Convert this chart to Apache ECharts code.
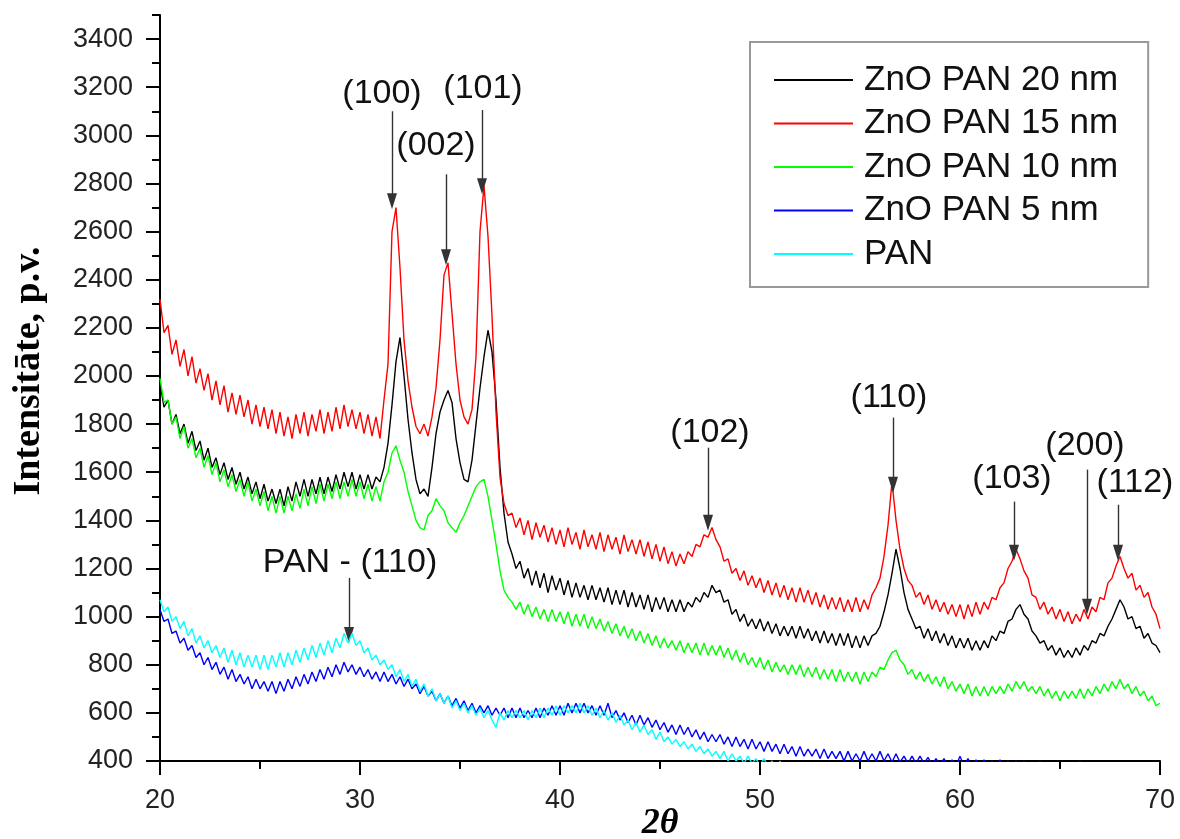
<!DOCTYPE html>
<html><head><meta charset="utf-8">
<script src="https://cdn.jsdelivr.net/npm/echarts@6/dist/echarts.min.js"></script>
<style>html,body{margin:0;padding:0;background:#fff}#chart{width:1180px;height:839px}</style>
</head><body><div id="chart"></div>
<script>
const seriesNames = ['ZnO PAN 20 nm', 'ZnO PAN 15 nm', 'ZnO PAN 10 nm', 'ZnO PAN 5 nm', 'PAN'];

const twoTheta = [
20,20.2,20.4,20.6,20.8,21,21.2,21.4,21.6,21.8,
22,22.2,22.4,22.6,22.8,23,23.2,23.4,23.6,23.8,
24,24.2,24.4,24.6,24.8,25,25.2,25.4,25.6,25.8,
26,26.2,26.4,26.6,26.8,27,27.2,27.4,27.6,27.8,
28,28.2,28.4,28.6,28.8,29,29.2,29.4,29.6,29.8,
30,30.2,30.4,30.6,30.8,31,31.2,31.4,31.6,31.8,
32,32.2,32.4,32.6,32.8,33,33.2,33.4,33.6,33.8,
34,34.2,34.4,34.6,34.8,35,35.2,35.4,35.6,35.8,
36,36.2,36.4,36.6,36.8,37,37.2,37.4,37.6,37.8,
38,38.2,38.4,38.6,38.8,39,39.2,39.4,39.6,39.8,
40,40.2,40.4,40.6,40.8,41,41.2,41.4,41.6,41.8,
42,42.2,42.4,42.6,42.8,43,43.2,43.4,43.6,43.8,
44,44.2,44.4,44.6,44.8,45,45.2,45.4,45.6,45.8,
46,46.2,46.4,46.6,46.8,47,47.2,47.4,47.6,47.8,
48,48.2,48.4,48.6,48.8,49,49.2,49.4,49.6,49.8,
50,50.2,50.4,50.6,50.8,51,51.2,51.4,51.6,51.8,
52,52.2,52.4,52.6,52.8,53,53.2,53.4,53.6,53.8,
54,54.2,54.4,54.6,54.8,55,55.2,55.4,55.6,55.8,
56,56.2,56.4,56.6,56.8,57,57.2,57.4,57.6,57.8,
58,58.2,58.4,58.6,58.8,59,59.2,59.4,59.6,59.8,
60,60.2,60.4,60.6,60.8,61,61.2,61.4,61.6,61.8,
62,62.2,62.4,62.6,62.8,63,63.2,63.4,63.6,63.8,
64,64.2,64.4,64.6,64.8,65,65.2,65.4,65.6,65.8,
66,66.2,66.4,66.6,66.8,67,67.2,67.4,67.6,67.8,
68,68.2,68.4,68.6,68.8,69,69.2,69.4,69.6,69.8,
70];

const zno20 = [
1970,1870,1900,1800,1840,1760,1800,1720,1770,1690,
1730,1650,1700,1620,1660,1590,1640,1570,1620,1550,
1600,1530,1580,1510,1560,1490,1550,1480,1530,1470,
1530,1460,1540,1480,1560,1500,1570,1500,1570,1510,
1580,1510,1580,1520,1590,1530,1600,1540,1600,1530,
1590,1530,1590,1530,1580,1560,1620,1720,1880,2060,
2160,2000,1820,1680,1570,1510,1530,1500,1620,1760,
1850,1900,1940,1890,1740,1640,1570,1560,1650,1800,
1950,2080,2190,2100,1900,1620,1430,1310,1260,1200,
1230,1160,1200,1130,1190,1120,1180,1100,1170,1110,
1160,1090,1150,1080,1140,1080,1130,1070,1130,1070,
1120,1060,1120,1050,1110,1050,1110,1040,1100,1040,
1090,1030,1090,1020,1080,1030,1080,1020,1070,1020,
1070,1020,1060,1040,1080,1060,1100,1080,1130,1100,
1110,1060,1070,1010,1030,980,1010,960,990,950,
990,940,980,930,970,920,960,920,960,910,
960,910,950,900,940,890,940,890,930,880,
930,880,930,870,920,870,920,880,920,930,
960,1020,1090,1180,1280,1200,1100,1030,990,950,
960,910,950,900,940,890,930,880,920,870,
910,870,910,860,900,860,900,870,920,900,
940,930,980,990,1030,1050,1010,990,940,920,
890,900,860,880,840,870,830,860,830,870,
840,880,860,900,890,930,920,960,990,1030,
1070,1040,990,1000,950,960,910,930,890,880,
850];

const zno15 = [
2320,2180,2210,2090,2150,2040,2110,2000,2080,1970,
2030,1940,2010,1900,1980,1880,1960,1850,1930,1840,
1920,1830,1900,1800,1880,1790,1870,1780,1860,1760,
1850,1750,1830,1740,1840,1760,1850,1750,1840,1770,
1860,1760,1850,1770,1870,1780,1880,1790,1860,1780,
1850,1760,1840,1750,1830,1740,1900,2050,2600,2700,
2450,2150,1980,1870,1790,1760,1800,1750,1830,1950,
2150,2420,2470,2260,2050,1900,1830,1800,1860,2080,
2600,2790,2580,2250,1850,1580,1470,1420,1430,1370,
1410,1340,1400,1320,1390,1330,1380,1310,1370,1300,
1360,1290,1370,1300,1350,1280,1360,1290,1340,1280,
1350,1270,1340,1280,1330,1260,1340,1270,1320,1260,
1320,1250,1310,1240,1300,1230,1290,1220,1270,1210,
1260,1220,1270,1250,1300,1290,1340,1330,1370,1320,
1290,1230,1240,1180,1200,1150,1190,1130,1170,1120,
1160,1100,1150,1090,1140,1080,1130,1070,1120,1060,
1120,1060,1110,1050,1100,1040,1090,1030,1080,1030,
1080,1020,1070,1020,1080,1020,1070,1030,1090,1120,
1160,1250,1380,1560,1400,1280,1200,1150,1130,1080,
1100,1050,1090,1030,1070,1020,1060,1010,1050,1000,
1050,990,1050,1000,1060,1010,1060,1030,1080,1070,
1120,1140,1200,1230,1280,1240,1190,1160,1090,1080,
1030,1060,1010,1040,990,1030,980,1020,970,1010,
980,1030,990,1040,1020,1080,1070,1140,1160,1210,
1250,1200,1160,1180,1110,1130,1080,1100,1040,1010,
950];

const zno10 = [
1990,1890,1900,1800,1830,1740,1790,1700,1740,1660,
1700,1620,1670,1590,1640,1560,1610,1540,1590,1520,
1570,1500,1560,1480,1530,1460,1520,1440,1500,1430,
1500,1430,1500,1440,1510,1450,1530,1460,1540,1470,
1550,1480,1550,1490,1560,1490,1560,1500,1570,1500,
1560,1490,1550,1480,1540,1480,1560,1600,1680,1710,
1650,1600,1520,1460,1400,1370,1360,1420,1440,1490,
1460,1440,1390,1370,1350,1390,1420,1460,1500,1540,
1560,1570,1500,1400,1300,1190,1110,1080,1060,1030,
1060,1010,1050,1000,1040,990,1030,980,1030,980,
1020,970,1020,960,1010,960,1010,950,1000,950,
990,940,980,930,970,920,960,910,950,900,
940,890,930,880,920,870,910,870,900,860,
900,850,890,850,890,840,890,840,880,840,
880,830,870,820,860,810,850,800,830,790,
830,780,820,770,810,770,800,760,800,760,
800,750,790,750,790,740,780,740,780,730,
780,730,770,730,770,720,770,730,770,750,
790,780,820,850,860,820,800,760,780,740,
770,730,760,720,750,710,750,700,730,690,
720,680,720,670,710,670,710,670,710,680,
710,680,720,690,730,700,730,690,710,680,
710,670,700,660,690,650,690,660,690,660,
700,660,700,670,710,680,720,690,730,700,
740,700,720,680,710,670,690,650,670,630,
640];

const zno5 = [
1030,980,990,930,940,890,910,860,880,830,
850,800,830,780,810,760,790,740,780,730,
760,720,750,700,740,700,730,690,730,680,
730,690,740,700,750,710,760,720,770,730,
780,740,790,750,800,760,810,770,800,760,
790,750,780,740,770,730,770,730,760,720,
750,710,740,700,720,680,710,670,690,650,
680,640,670,630,660,620,650,610,640,600,
630,600,630,590,620,590,620,580,620,580,
620,580,610,580,620,580,620,590,630,590,
630,590,640,600,640,600,640,600,630,590,
630,590,640,580,610,570,600,560,590,550,
590,550,580,540,570,530,560,520,550,510,
550,510,540,500,530,490,520,480,510,480,
510,470,500,460,500,460,490,450,490,450,
480,440,480,440,470,430,470,430,460,420,
460,420,450,420,450,410,450,410,440,410,
440,400,440,400,430,400,440,400,430,400,
440,400,430,395,430,395,420,390,420,390,
420,390,415,385,410,385,410,380,405,380,
420,380,410,375,405,375,405,370,400,370,
405,370,400,365,400,365,400,360,395,360,
400,360,395,355,395,355,390,350,390,350,
400,350,395,350,390,345,385,345,385,345,
385,340,380,340,380,340,370,330,360,330,
340];

const pan = [
1070,1020,1040,980,1000,950,980,920,950,890,
920,870,900,850,880,830,870,810,860,800,
850,790,840,790,840,780,840,780,840,790,
850,790,850,800,860,810,870,820,880,830,
890,840,900,850,910,870,930,890,930,880,
900,850,870,820,840,800,820,780,800,750,
780,730,760,710,740,690,720,670,700,650,
680,640,670,620,650,610,640,600,630,590,
620,580,610,570,540,600,570,610,580,610,
580,610,570,610,580,620,580,620,590,630,
590,630,600,630,600,640,600,630,590,620,
580,610,570,600,560,590,550,570,530,560,
520,550,510,530,490,520,480,500,470,490,
460,480,450,470,440,460,430,450,420,440,
410,440,400,430,400,420,390,420,390,410,
380,410,380,400,370,400,370,390,360,390,
360,380,350,380,350,370,340,370,340,360,
340,360,330,360,330,350,320,350,320,340,
320,340,310,340,310,330,300,330,300,320,
300,320,300,320,290,310,290,310,290,310,
290,310,280,300,280,300,280,300,270,290,
270,290,270,290,270,290,260,280,260,280,
260,280,260,280,250,270,250,270,250,270,
250,270,250,270,240,260,240,260,240,260,
240,260,240,260,240,250,230,250,230,250,
230];

const yTickLabels = [400,600,800,1000,1200,1400,1600,1800,2000,2200,2400,2600,2800,3000,3200,3400];
const yMinorTicks = [500,700,900,1100,1300,1500,1700,1900,2100,2300,2500,2700,2900,3100,3300,3500];
const xTickLabels = [20,30,40,50,60,70];

const annoText = ['(100)','(002)','(101)','(102)','(110)','(103)','(200)','(112)','PAN - (110)'];
const annoLabelX = [31.1, 33.8, 36.15, 47.5, 56.45, 62.6, 66.25, 68.75, 29.5];
const annoLabelY = [3175, 2959, 3192, 1765, 1910, 1573, 1711, 1557, 1224];
const annoArrowX = [31.6, 34.3, 36.1, 47.4, 56.65, 62.7, 66.35, 67.9, 29.45];
const annoArrowTop = [3100, 2838, 3105, 1702, 1827, 1478, 1611, 1465, 1161];
const annoArrowTip = [2726, 2493, 2788, 1390, 1548, 1265, 1041, 1265, 924];

const colors = ['#000000', '#ff0000', '#00ff00', '#0000ff', '#00ffff'];
const allValues = [zno20, zno15, zno10, zno5, pan];

const chart = echarts.init(document.getElementById('chart'), null, {renderer: 'canvas'});
const sansFont = '"Liberation Sans", Arial, sans-serif';
const serifFont = '"Liberation Serif", "Times New Roman", serif';

const lineSeries = seriesNames.map((name, k) => ({
  name: name,
  type: 'line',
  data: twoTheta.map((x, i) => [x, allValues[k][i]]),
  showSymbol: false,
  symbol: 'none',
  clip: true,
  color: colors[k],
  lineStyle: {color: colors[k], width: 1.4},
  z: 2 + k
}));

const annoSeries = {
  name: 'annotations',
  type: 'scatter',
  symbolSize: 0,
  itemStyle: {color: '#000', opacity: 1},
  z: 20,
  silent: true,
  data: annoText.map((t, i) => ({value: [annoLabelX[i], annoLabelY[i]], name: t})),
  label: {
    show: true, position: 'inside', formatter: p => p.name,
    fontSize: 34, fontFamily: sansFont, color: '#111', opacity: 1,
    textBorderWidth: 0
  },
  labelLayout: {hideOverlap: false},
  markLine: {
    silent: true,
    symbol: ['none', 'triangle'],
    symbolSize: [10, 16],
    label: {show: false},
    lineStyle: {color: '#333', width: 1.4, type: 'solid'},
    data: annoText.map((t, i) => [
      {coord: [annoArrowX[i], annoArrowTop[i]]},
      {coord: [annoArrowX[i], annoArrowTip[i]]}
    ])
  }
};

chart.setOption({
  animation: false,
  backgroundColor: '#fff',
  grid: {left: 160, right: 20, top: 15, bottom: 78, containLabel: false, outerBoundsMode: 'none'},
  legend: {
    orient: 'vertical', left: 750, top: 42,
    padding: [20, 30, 15, 24], itemGap: 7.5,
    itemWidth: 79, itemHeight: 2, icon: 'rect',
    borderColor: '#999', borderWidth: 2, backgroundColor: '#fff',
    textStyle: {fontSize: 35, lineHeight: 36, fontFamily: sansFont, color: '#111', padding: [0, 0, 0, 6]},
    data: seriesNames
  },
  xAxis: {
    type: 'value', min: 20, max: 70, interval: 10,
    name: '2θ', nameLocation: 'middle', nameGap: 45, nameMoveOverlap: false,
    nameTextStyle: {fontFamily: serifFont, fontStyle: 'italic', fontWeight: 'bold', fontSize: 36, color: '#000'},
    axisLine: {show: true, onZero: false, lineStyle: {color: '#000', width: 2}},
    axisTick: {show: true, length: 14, lineStyle: {color: '#000', width: 2}},
    minorTick: {show: true, splitNumber: 2, length: 8, lineStyle: {color: '#000', width: 2}},
    axisLabel: {fontSize: 27, margin: 26, color: '#222', fontFamily: sansFont,
      customValues: xTickLabels, formatter: v => String(v)},
    splitLine: {show: false}, minorSplitLine: {show: false}
  },
  yAxis: [{
    type: 'value', min: 400, max: 3500, interval: 200,
    name: 'Intensitāte, p.v.', nameLocation: 'middle', nameGap: 112, nameMoveOverlap: false,
    nameTextStyle: {fontFamily: serifFont, fontWeight: 'bold', fontSize: 38, color: '#000', padding: [0, 0, 0, 34]},
    axisLine: {show: true, onZero: false, lineStyle: {color: '#000', width: 2}},
    axisTick: {show: true, length: 14, lineStyle: {color: '#000', width: 2}, customValues: yTickLabels},
    axisLabel: {fontSize: 27, margin: 27, color: '#222', fontFamily: sansFont, customValues: yTickLabels,
      formatter: v => String(v)},
    splitLine: {show: false}
  }, {
    type: 'value', min: 400, max: 3500, interval: 100, position: 'left',
    axisLine: {show: false},
    axisTick: {show: true, length: 8, lineStyle: {color: '#000', width: 2}, customValues: yMinorTicks},
    axisLabel: {show: false},
    splitLine: {show: false}
  }],
  series: lineSeries.concat([annoSeries])
});
</script>
</body></html>
